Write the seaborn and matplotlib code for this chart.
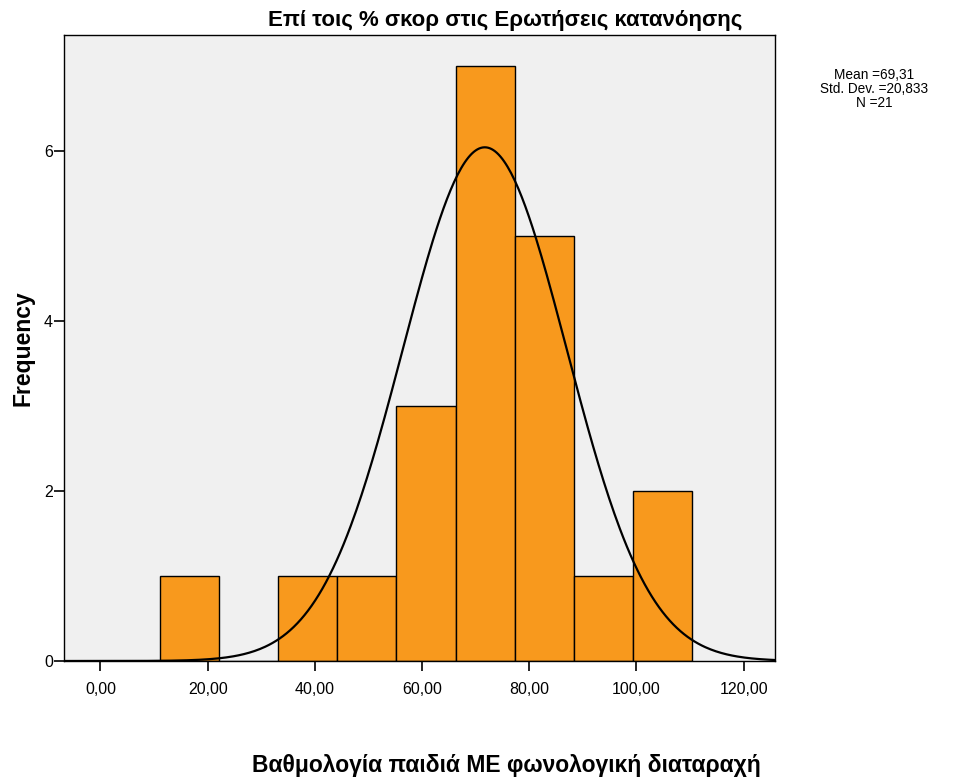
import numpy as np
import seaborn as sns
import matplotlib.pyplot as plt

# histogram
bin_edges = [11.1, 22.13, 33.16, 44.19, 55.22, 66.25, 77.28, 88.31, 99.34, 110.37]
counts = [1, 0, 1, 1, 3, 7, 5, 1, 2]

# normal curve as drawn in the picture
curve_mean = 71.7
curve_sd = 15.3
n_total = 21

stats_lines = ["Mean =69,31", "Std. Dev. =20,833", "N =21"]
x_ticks = [0, 20, 40, 60, 80, 100, 120]
y_ticks = [0, 2, 4, 6]

title = "Επί τοις % σκορ στις Ερωτήσεις κατανόησης"
x_label = "Βαθμολογία παιδιά ΜΕ φωνολογική διαταραχή"

sns.set_style("white")
plt.rcParams["font.family"] = ["Liberation Sans", "DejaVu Sans"]
plt.rcParams["text.color"] = "black"

fig = plt.figure(figsize=(9.77, 7.78), dpi=100)
ax = fig.add_axes([0.0655, 0.1504, 0.7275, 0.8046])
ax.set_facecolor("#F0F0F0")

centers = [(a + b) / 2 for a, b in zip(bin_edges[:-1], bin_edges[1:])]
sns.histplot(x=centers, weights=counts, bins=bin_edges, color="#F8991D",
             alpha=1, edgecolor="black", linewidth=1, ax=ax)

xlim = (-6.8, 125.8)
xs = np.linspace(xlim[0], xlim[1], 400)
bw = bin_edges[1] - bin_edges[0]
ys = n_total * bw / (curve_sd * np.sqrt(2 * np.pi)) * np.exp(-0.5 * ((xs - curve_mean) / curve_sd) ** 2)
sns.lineplot(x=xs, y=ys, color="black", linewidth=1.6, ax=ax)

ax.set_xlim(*xlim)
ax.set_ylim(0, 7.36)
ax.set_xticks(x_ticks)
ax.set_xticklabels([f"{v:.2f}".replace(".", ",") for v in x_ticks], fontsize=11.5)
ax.set_yticks(y_ticks)
ax.set_yticklabels([str(v) for v in y_ticks], fontsize=11.5)
ax.tick_params(axis="both", direction="out", length=7, width=1.2, color="black",
               labelcolor="black", bottom=True, left=True)
ax.tick_params(axis="x", pad=8)
ax.tick_params(axis="y", pad=1)

for s in ax.spines.values():
    s.set_color("black")
    s.set_linewidth(1)

ax.set_xlabel("")
ax.set_ylabel("Frequency", fontsize=16.5, fontweight="bold", labelpad=7, color="black")

fig.text(0.517, 0.974, title, ha="center", va="center", fontsize=16, fontweight="bold")
fig.text(0.518, 0.016, x_label, ha="center", va="center", fontsize=16.5, fontweight="bold")
for i, line in enumerate(stats_lines):
    fig.text(0.895, 1 - (75 + 14 * i) / 778, line, ha="center", va="center", fontsize=9.8)

fig.savefig("out.png", dpi=100)
